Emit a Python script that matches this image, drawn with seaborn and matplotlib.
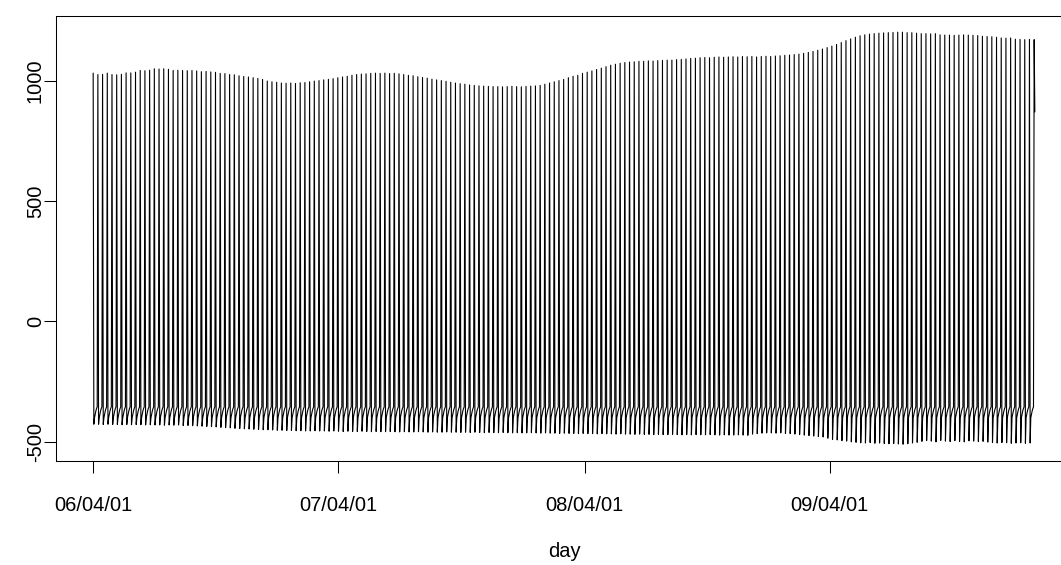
import pandas as pd
import matplotlib
matplotlib.use("Agg")
import matplotlib.pyplot as plt
import matplotlib.dates as mdates
import seaborn as sns

# Weekly cycle: one peak day, one trough day, five quiet days
start_date = "2006-04-01"

weekly_peaks = [
    1031, 1025, 1026, 1031, 1025, 1024, 1026, 1032, 1032, 1035,
    1042, 1041, 1043, 1049, 1048, 1049, 1047, 1042, 1043, 1042,
    1041, 1042, 1040, 1037, 1038, 1036, 1034, 1030, 1029, 1025,
    1024, 1020, 1017, 1015, 1012, 1009, 1005, 998, 995, 993,
    990, 989, 990, 988, 991, 992, 995, 998, 1000, 1003,
    1005, 1008, 1012, 1015, 1018, 1022, 1025, 1027, 1028, 1030,
    1031, 1030, 1031, 1029, 1030, 1028, 1025, 1022, 1020, 1016,
    1013, 1010, 1006, 1003, 1000, 997, 993, 990, 987, 985,
    982, 980, 978, 977, 976, 975, 975, 974, 975, 976,
    975, 974, 976, 977, 978, 980, 985, 990, 995, 1000,
    1005, 1012, 1018, 1022, 1030, 1035, 1040, 1046, 1052, 1058,
    1064, 1068, 1072, 1075, 1077, 1078, 1080, 1080, 1082, 1081,
    1083, 1084, 1085, 1085, 1087, 1088, 1090, 1092, 1093, 1095,
    1096, 1095, 1097, 1098, 1097, 1098, 1099, 1098, 1100, 1099,
    1100, 1098, 1100, 1101, 1100, 1102, 1103, 1105, 1106, 1108,
    1110, 1113, 1117, 1121, 1126, 1131, 1137, 1143, 1150, 1158,
    1166, 1173, 1180, 1186, 1190, 1193, 1195, 1197, 1198, 1199,
    1200, 1201, 1201, 1199, 1199, 1197, 1195, 1195, 1194, 1195,
    1190, 1189, 1189, 1188, 1189, 1190, 1189, 1188, 1187, 1184,
    1183, 1182, 1180, 1177, 1176, 1177, 1172, 1171, 1170, 1171,
    1170,
]

weekly_troughs = [
    -427, -427, -428, -427, -428, -428, -429, -428, -429, -428,
    -429, -430, -429, -430, -430, -431, -430, -431, -430, -432,
    -432, -433, -434, -435, -436, -437, -438, -440, -441, -442,
    -444, -445, -446, -447, -448, -449, -450, -450, -451, -452,
    -452, -453, -453, -454, -454, -455, -455, -454, -455, -455,
    -456, -455, -456, -457, -456, -457, -457, -456, -457, -458,
    -457, -458, -458, -457, -458, -459, -458, -459, -459, -458,
    -459, -460, -459, -460, -460, -459, -460, -460, -461, -460,
    -461, -460, -461, -462, -461, -462, -462, -461, -462, -463,
    -462, -463, -463, -462, -463, -464, -463, -464, -464, -465,
    -464, -465, -465, -466, -465, -466, -466, -467, -466, -467,
    -467, -468, -467, -468, -468, -469, -468, -469, -469, -470,
    -469, -470, -470, -469, -470, -471, -470, -471, -470, -471,
    -471, -470, -471, -472, -471, -472, -472, -471, -472, -473,
    -468, -466, -464, -463, -463, -464, -463, -465, -466, -468,
    -470, -472, -474, -476, -478, -480, -485, -490, -492, -495,
    -497, -500, -502, -504, -505, -503, -506, -505, -507, -508,
    -507, -509, -510, -508, -505, -502, -498, -495, -497, -500,
    -494, -497, -499, -495, -498, -500, -496, -497, -499, -498,
    -501, -503, -505, -503, -504, -506, -505, -504, -506, -505,
]

rest_levels = [-400, -385, -372, -362, -355]
last_value = 870

tick_dates = ["2006-04-01", "2007-04-01", "2008-04-01", "2009-04-01"]
tick_labels = ["06/04/01", "07/04/01", "08/04/01", "09/04/01"]
y_ticks = [-500, 0, 500, 1000]

# Build the daily series
values = []
for peak, trough in zip(weekly_peaks[:-1], weekly_troughs):
    values += [peak, trough] + rest_levels
values += [weekly_peaks[-1], last_value]
days = pd.date_range(start_date, periods=len(values), freq="D")
df = pd.DataFrame({"day": days, "value": values})

sns.set_style("ticks")
plt.rcParams["font.family"] = ["Liberation Sans", "DejaVu Sans"]

fig = plt.figure(figsize=(10.61, 5.65), dpi=100)
ax = fig.add_axes([55.5 / 1061, (565 - 460.7) / 565, 1017 / 1061, 445 / 565])
sns.lineplot(data=df, x="day", y="value", ax=ax, color="black",
             linewidth=0.8, estimator=None)

# R-style 4% padding around the data range
x0, x1 = mdates.date2num(days[0]), mdates.date2num(days[-1])
ax.set_xlim(x0 - 0.04 * (x1 - x0), x1 + 0.04 * (x1 - x0))
y0, y1 = min(values), max(values)
ax.set_ylim(y0 - 0.04 * (y1 - y0), y1 + 0.04 * (y1 - y0))

ax.set_xticks(pd.to_datetime(tick_dates))
ax.set_xticklabels(tick_labels)
ax.set_yticks(y_ticks)
ax.set_yticklabels([str(v) for v in y_ticks], rotation=90, va="center")

ax.tick_params(axis="both", length=8.6, width=0.75, color="black",
               labelsize=14.5, labelcolor="black")
ax.tick_params(axis="x", pad=17)
ax.tick_params(axis="y", pad=-1)
for s in ax.spines.values():
    s.set_visible(True)
    s.set_color("black")
    s.set_linewidth(0.75)

ax.set_xlabel("day", fontsize=14.5, color="black", labelpad=19)
ax.set_ylabel("")

fig.savefig("out.png", dpi=100)
